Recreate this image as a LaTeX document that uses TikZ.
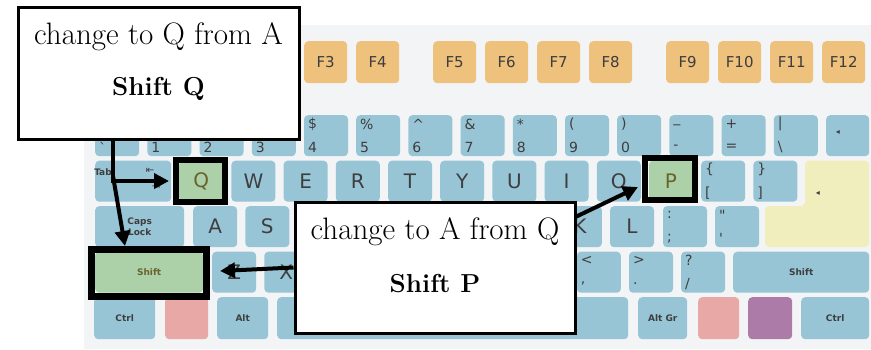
\documentclass[tikz,border=0pt]{standalone}
\usepackage{fontspec}
\newfontfamily\keyfont{DejaVu Sans}
\usetikzlibrary{arrows.meta,positioning}
\definecolor{kbGray}{RGB}{243,244,246}
\definecolor{keyBlue}{RGB}{152,197,214}
\definecolor{fkeyOrange}{RGB}{238,193,125}
\definecolor{hlGreen}{RGB}{172,208,168}
\definecolor{enterYellow}{RGB}{241,238,190}
\definecolor{winRed}{RGB}{232,168,166}
\definecolor{menuPurple}{RGB}{172,123,168}
\definecolor{keyText}{RGB}{62,62,62}
\definecolor{keyOlive}{RGB}{105,100,45}
\begin{document}
\begin{tikzpicture}
  [x=1pt,y=-1pt,
   keyN/.style={rectangle,rounded corners=4pt,fill=keyBlue,inner sep=0pt,anchor=north west,
     minimum width=44pt,minimum height=41pt,text=keyText,font=\keyfont\fontsize{20}{20}\selectfont},
   fkeyN/.style={keyN,fill=fkeyOrange,minimum width=43pt,minimum height=42pt,font=\keyfont\fontsize{15}{15}\selectfont},
   tinyN/.style={keyN,font=\keyfont\bfseries\fontsize{9}{11}\selectfont,align=center},
   symN/.style={inner sep=0pt,text=keyText,font=\keyfont\fontsize{14}{14}\selectfont},
   markN/.style={inner sep=0pt,text=keyText,font=\keyfont\fontsize{8}{8}\selectfont},
   hlN/.style={draw=black,line width=6pt,inner sep=0pt},
   noteN/.style={draw=black,line width=3pt,fill=white,inner sep=0pt},
   lineN/.style={inner sep=0pt,font=\fontsize{31}{36}\selectfont},
   boldN/.style={inner sep=0pt,font=\fontsize{26}{30}\selectfont\bfseries},
   arrowL/.style={line width=4pt,-{Triangle[length=15pt,width=15pt]}},
  ]

  \useasboundingbox (0,0) rectangle (871,349);
  \fill[kbGray] (84,25) rectangle (871,349);

  % function keys
  \foreach \lbl/\xx in {F3/304,F4/356,F5/433,F6/485,F7/537,F8/589,F9/666,F10/718,F11/770,F12/822}
    \node[fkeyN] (key\lbl) at (\xx,41) {\lbl};

  % number row
  \foreach \up/\dn [count=\i from 0] in {{}/{\textasciigrave},{}/1,{}/2,{}/3,\$/4,\%/5,
      {\textasciicircum}/6,\&/7,*/8,{(}/9,{)}/0,\_/-,+/=,|/{\textbackslash}} {
    \node[keyN] (num\i) at (95+52.2*\i,115) {};
    \node[symN,anchor=west] (numUp\i) at ([xshift=4pt,yshift=-9pt]num\i.north west) {\up};
    \node[symN,anchor=west] (numDn\i) at ([xshift=4pt,yshift=9pt]num\i.south west) {\dn};
  }
  \node[keyN,minimum width=43pt] (keyBack) at (826,115) {};
  \node[markN] (backMark) at (838,132) {◂};

  % top letter row
  \node[tinyN,minimum width=76pt] (keyTab) at (95,160.5) {};
  \node[markN,font=\keyfont\bfseries\fontsize{9}{9}\selectfont] (tabTxt) at (103,172) {Tab};
  \node[markN,font=\keyfont\fontsize{10}{10}\selectfont] (tabBack) at (150,171) {⇤};
  \node[markN,font=\keyfont\fontsize{10}{10}\selectfont] (tabFwd) at (156,187) {⇥};
  \foreach \lbl/\col/\tcol [count=\i from 0] in {Q/hlGreen/keyOlive,W/keyBlue/keyText,E/keyBlue/keyText,
      R/keyBlue/keyText,T/keyBlue/keyText,Y/keyBlue/keyText,U/keyBlue/keyText,I/keyBlue/keyText,
      O/keyBlue/keyText,P/hlGreen/keyOlive}
    \node[keyN,fill=\col,text=\tcol] (key\lbl) at (179+52.2*\i,160.5) {\lbl};
  \foreach \up/\dn [count=\i from 0] in {{\{}/{[},{\}}/{]}} {
    \node[keyN] (brk\i) at (701+52.2*\i,160.5) {};
    \node[symN,anchor=west] (brkUp\i) at ([xshift=4pt,yshift=-9pt]brk\i.north west) {\up};
    \node[symN,anchor=west] (brkDn\i) at ([xshift=4pt,yshift=9pt]brk\i.south west) {\dn};
  }
  \fill[enterYellow,rounded corners=4pt] (805,160.5) -- (869,160.5) -- (869,247) -- (765,247)
    -- (765,206) -- (805,206) -- cycle;
  \node[markN] (enterMark) at (818,193) {◂};

  % home row (D to J sit under the note)
  \node[tinyN,minimum width=89pt] (keyCaps) at (95,206) {Caps\\Lock};
  \foreach \lbl [count=\i from 0] in {A,S,{},{},{},{},{},K,L}
    \node[keyN] (home\i) at (193+52.1*\i,206) {\lbl};
  \foreach \up/\dn [count=\i from 0] in {:/;,{\textquotedbl}/{\textquotesingle}} {
    \node[keyN] (pun\i) at (662.8+52.1*\i,206) {};
    \node[symN,anchor=west] (punUp\i) at ([xshift=4pt,yshift=-9pt]pun\i.north west) {\up};
    \node[symN,anchor=west] (punDn\i) at ([xshift=4pt,yshift=9pt]pun\i.south west) {\dn};
  }

  % bottom letter row (C to M sit under the note)
  \node[tinyN,minimum width=108pt,fill=hlGreen,text=keyOlive] (keyShiftL) at (95,251.5) {Shift};
  \foreach \lbl [count=\i from 0] in {Z,X,{},{},{},{},{}}
    \node[keyN] (low\i) at (212+52.1*\i,251.5) {\lbl};
  \foreach \up/\dn [count=\i from 0] in {{<}/{,},{>}/{.},{?}/{/}} {
    \node[keyN] (sym\i) at (576.7+52.1*\i,251.5) {};
    \node[symN,anchor=west] (symUp\i) at ([xshift=4pt,yshift=-9pt]sym\i.north west) {\up};
    \node[symN,anchor=west] (symDn\i) at ([xshift=4pt,yshift=9pt]sym\i.south west) {\dn};
  }
  \node[tinyN,minimum width=136pt] (keyShiftR) at (733,251.5) {Shift};

  % space row
  \node[tinyN,minimum width=61pt,minimum height=42pt] (keyCtrlL) at (94,297) {Ctrl};
  \node[tinyN,minimum width=43pt,minimum height=42pt,fill=winRed] (keyWinL) at (165,297) {};
  \node[tinyN,minimum width=51pt,minimum height=42pt] (keyAlt) at (217,297) {Alt};
  \node[tinyN,minimum width=351pt,minimum height=42pt] (keySpace) at (277,297) {};
  \node[tinyN,minimum width=49pt,minimum height=42pt] (keyAltGr) at (638,297) {Alt Gr};
  \node[tinyN,minimum width=41pt,minimum height=42pt,fill=winRed] (keyWinR) at (698,297) {};
  \node[tinyN,minimum width=44pt,minimum height=42pt,fill=menuPurple] (keyMenu) at (748,297) {};
  \node[tinyN,minimum width=68pt,minimum height=42pt] (keyCtrlR) at (801,297) {Ctrl};

  % highlights
  \node[hlN,minimum width=49pt,minimum height=42pt] (hlQ) at (200.5,181) {};
  \node[hlN,minimum width=50pt,minimum height=42pt] (hlP) at (670,179) {};
  \node[hlN,line width=7pt,minimum width=115pt,minimum height=47pt] (hlShift) at (149,273) {};

  % notes
  \node[noteN,minimum width=281pt,minimum height=132pt] (noteQ) at (158.5,73) {};
  \node[lineN] (noteQa) at ([yshift=-31pt]noteQ.north) {change to Q from A};
  \node[boldN] (noteQb) at ([yshift=-83pt]noteQ.north) {Shift Q};
  \node[noteN,minimum width=280pt,minimum height=131pt] (noteA) at (435,267.5) {};
  \node[lineN] (noteAa) at ([yshift=-31pt]noteA.north) {change to A from Q};
  \node[boldN] (noteAb) at ([yshift=-83pt]noteA.north) {Shift P};

  % arrows
  \coordinate (fork) at (113,176);
  \draw[arrowL] (noteQ.south -| fork) |- ([xshift=-4pt]hlQ.west);
  \draw[arrowL] (fork) -- ([xshift=-24pt]hlShift.north);
  \draw[arrowL] (noteA.west) -- ([xshift=10pt,yshift=2pt]hlShift.east);
  \draw[arrowL] ([yshift=-16pt]noteA.north east) -- ([xshift=-4pt,yshift=-8pt]hlP.west);
\end{tikzpicture}
\end{document}
